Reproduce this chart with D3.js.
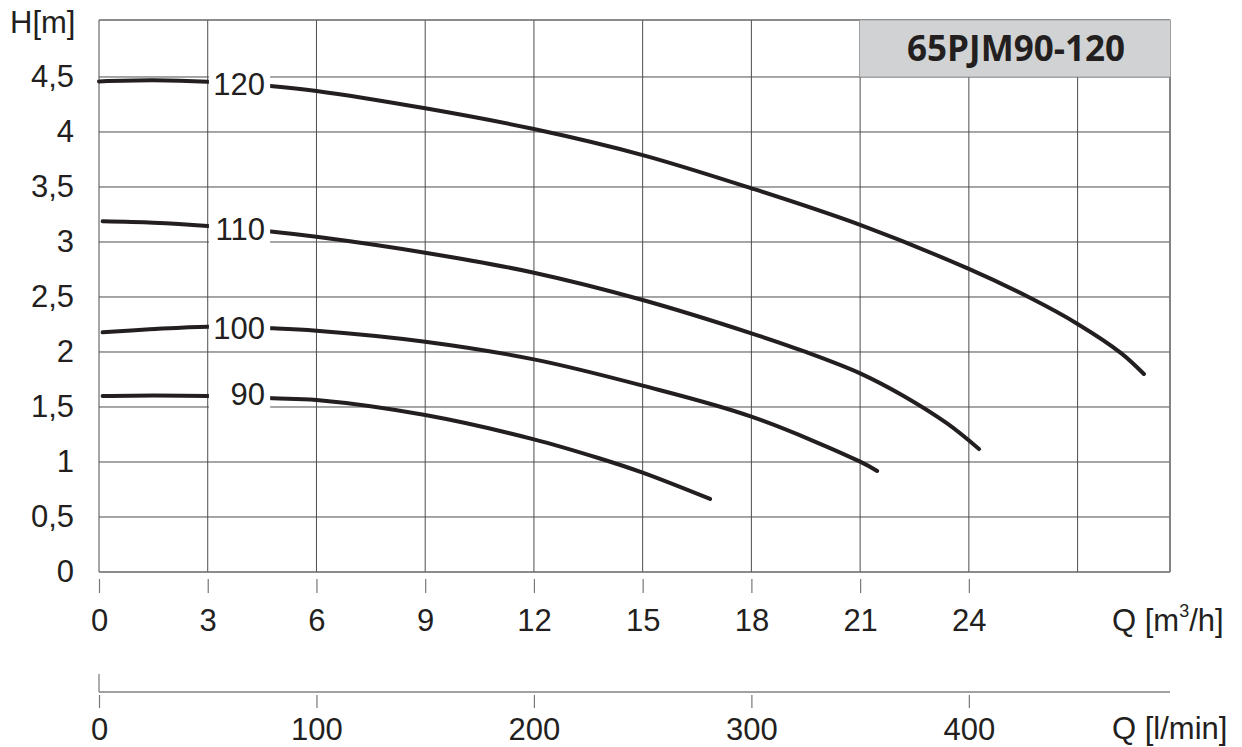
<!DOCTYPE html>
<html>
<head>
<meta charset="utf-8">
<script src="https://cdn.jsdelivr.net/npm/d3@7"></script>
<style>
  html, body { margin: 0; padding: 0; background: #fff; }
  svg { display: block; }
  text { font-family: "Liberation Sans", Arial, sans-serif; fill: #231f20; }
</style>
</head>
<body>
<svg id="chart" width="1242" height="747"></svg>
<script>
// ---- data ----
const title = "65PJM90-120";
const qGridTicks = [0, 3, 6, 9, 12, 15, 18, 21, 24, 27];
const qLabelTicks = [0, 3, 6, 9, 12, 15, 18, 21, 24];
const lminTicks = [0, 100, 200, 300, 400];
const hTicks = [0, 0.5, 1, 1.5, 2, 2.5, 3, 3.5, 4, 4.5];
const curveNames = ["120", "110", "100", "90"];
const curve120 = [[0,4.46],[1.5,4.47],[3,4.457],[4.7,4.418],[6,4.373],[9,4.215],[12,4.027],[15,3.79],[18,3.488],[21,3.155],[24,2.755],[25.7,2.49],[27,2.255],[28.2,1.99],[28.83,1.8]];
const curve110 = [[0.1,3.188],[1.5,3.175],[3,3.145],[4.8,3.094],[6,3.048],[9,2.903],[12,2.721],[15,2.473],[18,2.17],[19.5,2.0],[21,1.806],[22.2,1.6],[23.4,1.35],[24.28,1.118]];
const curve100 = [[0.1,2.179],[1.4,2.206],[3,2.23],[4.8,2.215],[6,2.194],[9,2.094],[12,1.933],[15,1.694],[18,1.412],[21,1.003],[21.47,0.918]];
const curve90  = [[0.1,1.6],[1.5,1.605],[3,1.6],[4.8,1.579],[6,1.564],[9,1.427],[12,1.206],[13.8,1.034],[15,0.903],[16.86,0.664]];
const curves = [curve120, curve110, curve100, curve90];

// ---- layout ----
const svg = d3.select("#chart");
const L = 99, R = 1170, T = 20, B = 572;
const qMax = 29.55, hMax = 5.018;
const x = d3.scaleLinear().domain([0, qMax]).range([L, R]);
const y = d3.scaleLinear().domain([0, hMax]).range([B, T]);
const xl = d3.scaleLinear().domain([0, qMax * 1000 / 60]).range([L, R]);
const ink = "#231f20";
const gridCol = "#4d4d4d";
const fontSize = 31;

// grid
svg.append("g").selectAll("line").data(qGridTicks).join("line")
  .attr("x1", d => x(d)).attr("x2", d => x(d)).attr("y1", T).attr("y2", B)
  .attr("stroke", gridCol).attr("stroke-width", 1);
svg.append("g").selectAll("line").data(hTicks).join("line")
  .attr("x1", L).attr("x2", R).attr("y1", d => y(d)).attr("y2", d => y(d))
  .attr("stroke", d => d === 0 ? "#666" : gridCol).attr("stroke-width", d => d === 0 ? 1.5 : 1);
// frame top and right
svg.append("line").attr("x1", L).attr("x2", R).attr("y1", T).attr("y2", T).attr("stroke", "#666").attr("stroke-width", 1.5);
svg.append("line").attr("x1", R).attr("x2", R).attr("y1", T).attr("y2", B).attr("stroke", "#777").attr("stroke-width", 1.8);

// title box
svg.append("rect").attr("x", x(21) - 0.5).attr("y", T).attr("width", R + 1 - x(21)).attr("height", y(4.5) - T)
  .attr("fill", "#d1d2d4").attr("stroke", "#999").attr("stroke-width", 0.8);
svg.append("text").attr("x", (x(21) + R) / 2 + 1).attr("y", 61)
  .attr("text-anchor", "middle")
  .style("font-family", "'Open Sans', 'DejaVu Sans', sans-serif")
  .style("font-weight", "bold").style("font-size", "35px")
  .text(title);

// curves
const line = d3.line().x(d => x(d[0])).y(d => y(d[1])).curve(d3.curveCatmullRom.alpha(0.5));
svg.append("g").selectAll("path").data(curves).join("path")
  .attr("d", line).attr("fill", "none").attr("stroke", ink)
  .attr("stroke-width", 4).attr("stroke-linecap", "round");

// curve labels on white background
const labelQ = 4.58;
curves.forEach((c, i) => {
  const interp = d3.scaleLinear().domain(c.map(p => p[0])).range(c.map(p => p[1]));
  const cy = y(interp(3.9)) - (i === 3 ? 3 : 0);
  const g = svg.append("g");
  const rect = g.append("rect").attr("fill", "#fff");
  const t = g.append("text").attr("x", x(labelQ)).attr("y", cy)
    .attr("dy", "0.36em").attr("text-anchor", "end")
    .style("font-size", fontSize + "px").text(curveNames[i]);
  const bb = t.node().getBBox();
  const x0 = Math.min(bb.x - 4, x(3) + 1.2);
  rect.attr("x", x0).attr("width", x(4.75) - x0 - 1)
    .attr("y", cy - 16).attr("height", 32);
});

// y axis labels
const fmt = d => String(d).replace(".", ",");
const yAxis = d3.axisLeft(y).tickValues(hTicks).tickFormat(fmt).tickSize(0).tickPadding(25);
const gy = svg.append("g").attr("transform", `translate(${L},0)`).call(yAxis);
gy.select(".domain").remove();
gy.selectAll("text").style("font-size", fontSize + "px").attr("fill", ink)
  .attr("font-family", "Liberation Sans, Arial, sans-serif");

svg.append("text").attr("x", 10).attr("y", 33).style("font-size", fontSize + "px").text("H[m]");

// Q m3/h axis
const xAxis = d3.axisBottom(x).tickValues(qLabelTicks).tickFormat(d => d).tickSize(14).tickPadding(16);
const gx = svg.append("g").attr("transform", `translate(0,579)`).call(xAxis);
gx.select(".domain").remove();
gx.selectAll(".tick line").attr("stroke", "#777").attr("stroke-width", 1.2);
gx.selectAll("text").style("font-size", fontSize + "px").attr("fill", ink)
  .attr("font-family", "Liberation Sans, Arial, sans-serif");

const qt = svg.append("text").attr("x", 1112).attr("y", 631).style("font-size", fontSize + "px");
qt.append("tspan").text("Q [m");
qt.append("tspan").attr("dy", -14).style("font-size", "18px").text("3");
qt.append("tspan").attr("dy", 14).text("/h]");

// Q l/min axis
svg.append("line").attr("x1", L).attr("x2", R).attr("y1", 692).attr("y2", 692)
  .attr("stroke", "#444").attr("stroke-width", 1.2);
svg.append("line").attr("x1", xl(0)).attr("x2", xl(0)).attr("y1", 674).attr("y2", 692)
  .attr("stroke", "#777").attr("stroke-width", 1.2);
const xlAxis = d3.axisBottom(xl).tickValues(lminTicks).tickFormat(d => d).tickSize(13).tickPadding(10);
const gl = svg.append("g").attr("transform", `translate(0,695)`).call(xlAxis);
gl.select(".domain").remove();
gl.selectAll(".tick line").attr("stroke", "#777").attr("stroke-width", 1.2);
gl.selectAll("text").style("font-size", fontSize + "px").attr("fill", ink)
  .attr("font-family", "Liberation Sans, Arial, sans-serif");

svg.append("text").attr("x", 1112).attr("y", 739).style("font-size", fontSize + "px").text("Q [l/min]");
</script>
</body>
</html>
